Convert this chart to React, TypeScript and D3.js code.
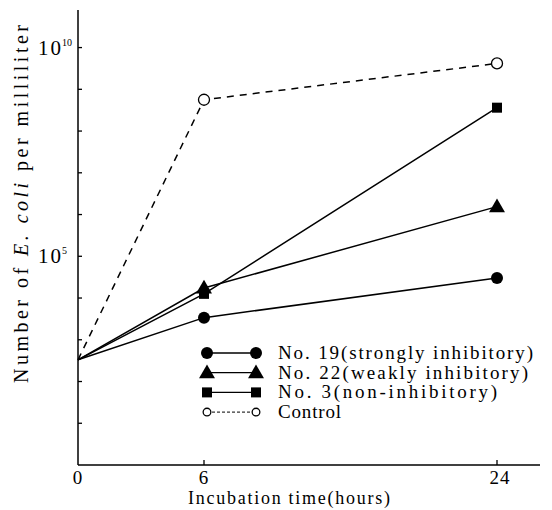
import React from 'react';
import * as d3 from 'd3';

// hours of incubation
const hours = [0, 6, 24];
// log10 of cells per ml
const strong = [2.52, 3.53, 4.48];
const weak = [2.52, 4.24, 6.19];
const nonInhib = [2.52, 4.1, 8.56];
const control = [2.52, 8.75, 9.62];

const xTicks = [0, 6, 24];
const yTicks = [1, 2, 3, 4, 5, 6, 7, 8, 9, 10];
const yLabels = [
  { exp: 10, text: '10', sup: '10' },
  { exp: 5, text: '10', sup: '5' },
];
const legendItems = [
  { name: 'No. 19(strongly inhibitory)', shape: 'circle', len: 255 },
  { name: 'No. 22(weakly inhibitory)', shape: 'triangle', len: 250 },
  { name: 'No. 3(non-inhibitory)', shape: 'square', len: 219 },
  { name: 'Control', shape: 'open', len: 63 },
];

const W = 552;
const H = 510;
const F = 'Liberation Serif';

function Marker({ shape, x, y, s = 1 }: { shape: string; x: number; y: number; s?: number }) {
  if (shape === 'circle') return <circle cx={x} cy={y} r={6 * s} fill="#000" />;
  if (shape === 'triangle') {
    const sym = d3.symbol(d3.symbolTriangle, 110 * s * s)();
    return <path d={sym || ''} transform={`translate(${x},${y + 1})`} fill="#000" />;
  }
  if (shape === 'square') return <rect x={x - 5 * s} y={y - 5 * s} width={10 * s} height={10 * s} fill="#000" />;
  return <circle cx={x} cy={y} r={5.5 * s} fill="#fff" stroke="#000" strokeWidth={1.3} />;
}

export default function App() {
  const x = d3.scaleLinear().domain([0, 6, 24]).range([78, 204, 497]);
  const y = d3.scaleLinear().domain([0, 10.9]).range([465, 10]);
  const line = d3
    .line<number>()
    .x((_, i) => x(hours[i]))
    .y((d) => y(d));

  const series = [
    { vals: strong, shape: 'circle', dash: undefined },
    { vals: weak, shape: 'triangle', dash: undefined },
    { vals: nonInhib, shape: 'square', dash: undefined },
    { vals: control, shape: 'open', dash: '7,6' },
  ];

  return (
    <svg width={W} height={H} style={{ position: 'absolute', left: 0, top: 0, background: '#fff' }}>
      {/* axes */}
      <line x1={78} x2={78} y1={10} y2={465} stroke="#000" strokeWidth={1.5} />
      <line x1={78} x2={540} y1={465} y2={465} stroke="#000" strokeWidth={1.5} />
      {yTicks.map((t) => (
        <line key={t} x1={78} x2={82} y1={y(t)} y2={y(t)} stroke="#000" strokeWidth={1.3} />
      ))}
      {xTicks.slice(1).map((t) => (
        <line key={t} x1={x(t)} x2={x(t)} y1={465} y2={460} stroke="#000" strokeWidth={1.3} />
      ))}
      {xTicks.map((t) => (
        <text
          key={t}
          fontFamily={F}
          x={x(t) + (t === 24 ? 3 : 0)}
          y={484}
          fontSize={19}
          textAnchor="middle"
          letterSpacing={1}
        >
          {t}
        </text>
      ))}
      {yLabels.map((l) => (
        <text key={l.exp} fontFamily={F} x={38} y={y(l.exp) + 7} fontSize={21}>
          <tspan letterSpacing={2}>{l.text}</tspan>
          <tspan fontSize={10} dx={-1} dy={-9}>
            {l.sup}
          </tspan>
        </text>
      ))}
      <text
        fontFamily={F}
        x={188}
        y={504}
        fontSize={18}
        textLength={202}
        lengthAdjust="spacing"
      >
        Incubation time(hours)
      </text>
      <text
        fontFamily={F}
        transform="translate(28,383) rotate(-90)"
        fontSize={20}
        textLength={358}
        lengthAdjust="spacing"
      >
        Number of <tspan fontStyle="italic">E. coli</tspan> per milliliter
      </text>

      {/* series */}
      {series.map((s, si) => (
        <g key={si}>
          <path d={line(s.vals) || ''} fill="none" stroke="#000" strokeWidth={1.5} strokeDasharray={s.dash} />
          {s.vals.slice(1).map((v, i) => (
            <Marker key={i} shape={s.shape} x={x(hours[i + 1])} y={y(v)} />
          ))}
        </g>
      ))}

      {/* legend */}
      {legendItems.map((it, i) => {
        const ly = 353 + i * 19.7;
        const open = it.shape === 'open';
        return (
          <g key={it.name}>
            <line
              x1={207}
              x2={256}
              y1={ly}
              y2={ly}
              stroke="#000"
              strokeWidth={open ? 1 : 1.3}
              strokeDasharray={open ? '3,2' : undefined}
            />
            <Marker shape={it.shape} x={207} y={ly} s={open ? 0.7 : 1} />
            <Marker shape={it.shape} x={256} y={ly} s={open ? 0.7 : 1} />
            <text
              fontFamily={F}
              x={278}
              y={ly + 6}
              fontSize={19}
              textLength={it.len}
              lengthAdjust="spacing"
            >
              {it.name}
            </text>
          </g>
        );
      })}
    </svg>
  );
}
